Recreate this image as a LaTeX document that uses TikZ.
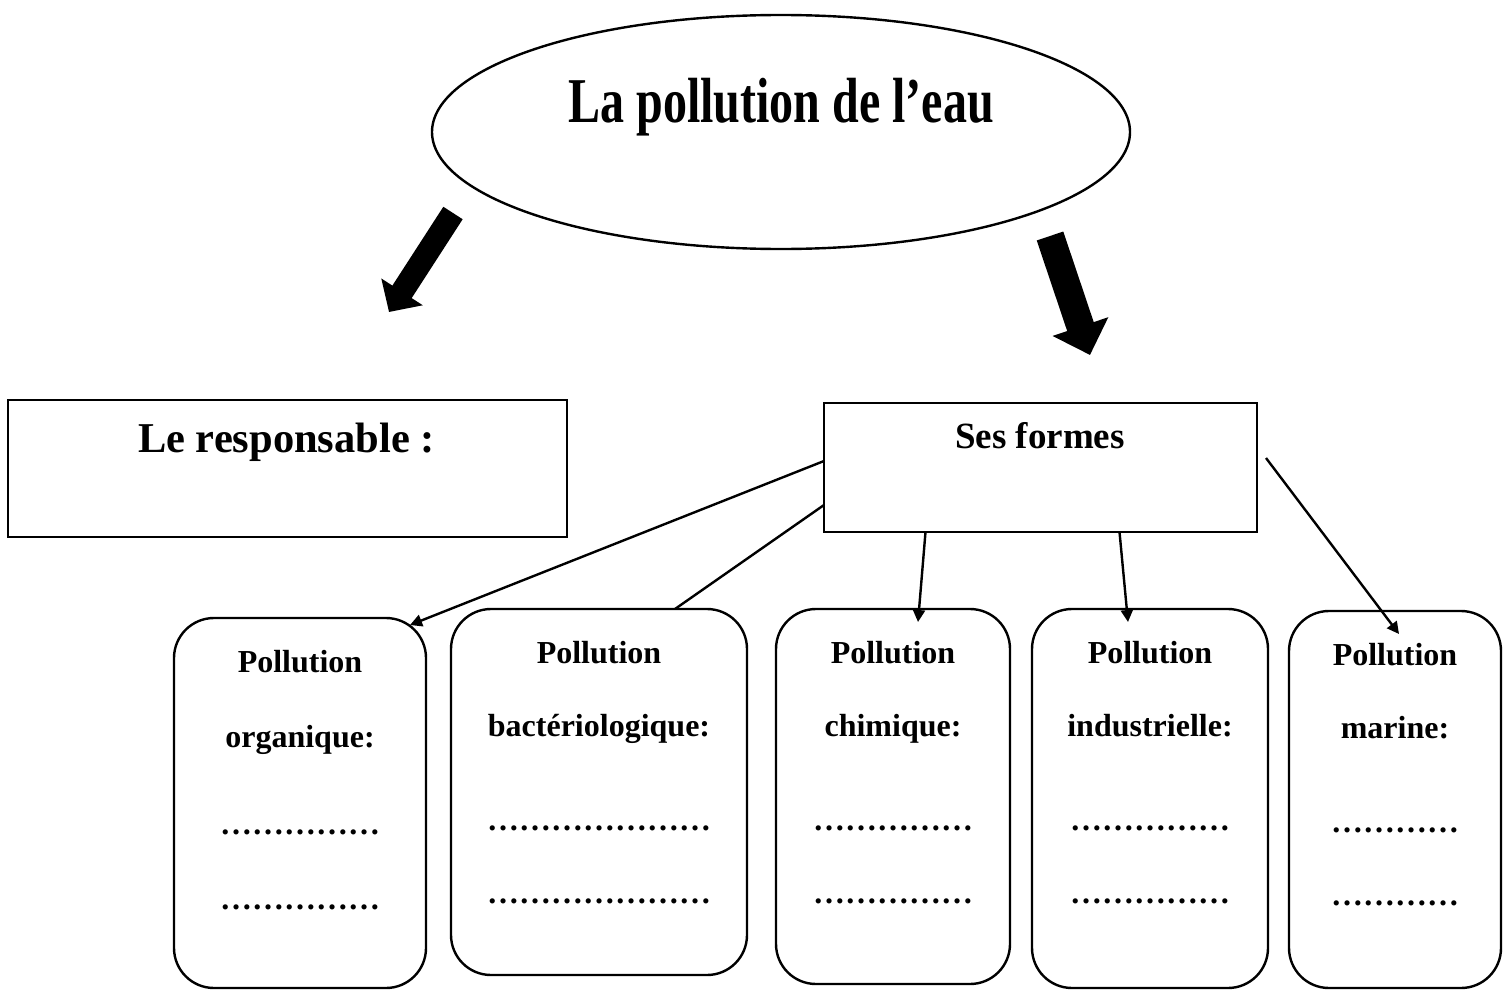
\documentclass[tikz,border=0pt]{standalone}
\usepackage{fontspec}
\setmainfont{Liberation Serif}
\usepackage{graphicx}
\usepackage{tikz}
\usetikzlibrary{shapes.geometric, positioning, arrows.meta}

\begin{document}
\begin{tikzpicture}[x=1pt, y=-1pt, line width=2.4pt, >={Triangle[length=12pt,width=12pt]}]

\useasboundingbox (0,0) rectangle (1509,990);

\node[ellipse, draw, minimum width=698pt, minimum height=234pt] (pollution) at (781,132) {};
\node[anchor=base, font=\fontsize{48}{56}\selectfont\bfseries] (titre) at (781,122) {\scalebox{1}[1.33]{La pollution de l’eau}};

\begin{scope}[every node/.style={rectangle,draw,outer sep=0pt}]
\node[minimum width=559pt, minimum height=137pt] (responsable) at (287.5,468.5) {};
\node[minimum width=433pt, minimum height=129pt] (formes) at (1040.5,467.5) {};
\end{scope}

\node[anchor=base, font=\fontsize{42.5}{50}\selectfont\bfseries] (responsable texte) at (286.5,452) {Le responsable :};
\node[anchor=base, font=\fontsize{37}{44}\selectfont\bfseries] (formes texte) at (1040,448) {Ses formes};

\begin{scope}[every node/.style={rectangle,draw,rounded corners=40pt,outer sep=0pt}]
\node[minimum width=252pt, minimum height=370pt] (organique) at (300,803) {};
\node[minimum width=296pt, minimum height=366pt] (bacterio) at (599,792) {};
\node[minimum width=234pt, minimum height=375pt] (chimique) at (893,796.5) {};
\node[minimum width=236pt, minimum height=379pt] (industrielle) at (1150,798.5) {};
\node[minimum width=212pt, minimum height=377pt] (marine) at (1395,799.5) {};
\end{scope}

\begin{scope}[every node/.style={align=center,inner sep=0pt,font=\fontsize{32}{36}\selectfont\bfseries}]
\node[below=31pt of organique.north] (organique texte) {Pollution\\[39pt]organique:\\[51pt]……………\\[39pt]……………};
\node[below=31pt of bacterio.north] (bacterio texte) {Pollution\\[37pt]bactériologique:\\[58pt]…………………\\[37pt]…………………};
\node[below=31pt of chimique.north] (chimique texte) {Pollution\\[37pt]chimique:\\[58pt]……………\\[37pt]……………};
\node[below=31pt of industrielle.north] (industrielle texte) {Pollution\\[37pt]industrielle:\\[58pt]……………\\[37pt]……………};
\node[below=31pt of marine.north] (marine texte) {Pollution\\[37pt]marine:\\[58pt]…………\\[37pt]…………};
\end{scope}

\coordinate (gauche debut) at (453,213);
\coordinate (gauche fin) at (389,312);
\coordinate (droite debut) at (1050,236);
\coordinate (droite fin) at (1090,355);
\draw[line width=23pt, -{Triangle[length=24pt,width=48pt]}] (gauche debut) -- (gauche fin);
\draw[line width=28pt, -{Triangle[length=30pt,width=57pt]}] (droite debut) -- (droite fin);

\begin{scope}
\path [->] ([yshift=6.5pt]formes.west) edge ([xshift=-16pt,yshift=-7pt]organique.north east);
\path ([yshift=-37.5pt]formes.west) edge ([xshift=76pt]bacterio.north);
\path [->] ([xshift=-115pt]formes.south) edge ([xshift=25pt,yshift=-13pt]chimique.north);
\path [->] ([xshift=79pt]formes.south) edge ([xshift=-22pt,yshift=-13pt]industrielle.north);
\path [->] ([xshift=9pt,yshift=9.5pt]formes.east) edge ([xshift=4pt,yshift=-23pt]marine.north);
\end{scope}

\end{tikzpicture}
\end{document}
